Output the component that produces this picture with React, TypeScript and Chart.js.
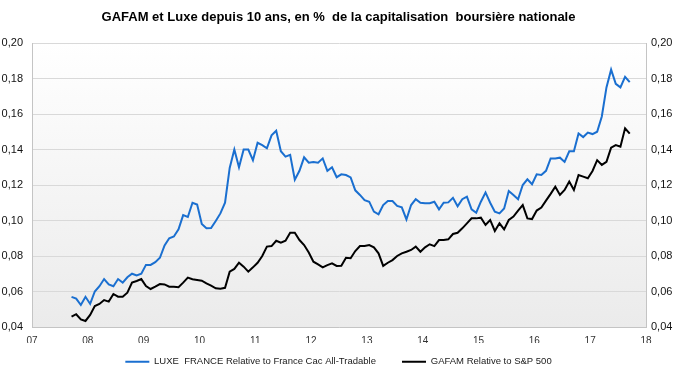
import React, { useEffect, useRef } from "react";
import { Chart, registerables } from "chart.js";

Chart.register(...registerables);

// First observation: September 2007 (month index 8), monthly to September 2017
const startYear = 2007;
const startMonth = 8;

const seriesLabels = [
  "LUXE_FRANCE Relative to France Cac All-Tradable",
  "GAFAM Relative to S&P 500",
];

const luxeFrance = [
  0.057, 0.056, 0.0524, 0.057, 0.053, 0.06, 0.063, 0.067, 0.064, 0.063,
  0.067, 0.065, 0.068, 0.07, 0.069, 0.07, 0.075, 0.075, 0.0765, 0.079,
  0.086, 0.09, 0.091, 0.095, 0.103, 0.102, 0.11, 0.109, 0.098, 0.0956,
  0.0957, 0.0997, 0.104, 0.11, 0.1296, 0.14, 0.13, 0.14, 0.14, 0.134,
  0.1438, 0.1425, 0.1407, 0.148, 0.1506, 0.139, 0.136, 0.137, 0.123, 0.128,
  0.1356, 0.1326, 0.133, 0.1326, 0.135, 0.128, 0.13, 0.1244, 0.126, 0.1256,
  0.1243, 0.117, 0.1144, 0.1115, 0.1106, 0.105, 0.1035, 0.1087, 0.111, 0.111,
  0.1082, 0.1074, 0.1006, 0.1087, 0.112, 0.11, 0.1097, 0.1097, 0.1106, 0.1063,
  0.11, 0.1102, 0.1128, 0.108, 0.112, 0.1134, 0.1063, 0.1044, 0.1106, 0.1158,
  0.11, 0.105, 0.104, 0.1068, 0.1166, 0.1144, 0.112, 0.12, 0.1232, 0.1204,
  0.126, 0.1256, 0.128, 0.135, 0.135, 0.1354, 0.133, 0.139, 0.139, 0.149,
  0.147, 0.1495, 0.1487, 0.15, 0.1586, 0.175, 0.185, 0.177, 0.175, 0.181,
  0.178,
];

const gafam = [
  0.0458, 0.0472, 0.0443, 0.0434, 0.0468, 0.0518, 0.053, 0.0552, 0.0543, 0.0586,
  0.0571, 0.0571, 0.0593, 0.065, 0.0659, 0.067, 0.0631, 0.0614, 0.0627, 0.0642,
  0.064, 0.0627, 0.0627, 0.0624, 0.065, 0.0678, 0.0669, 0.0665, 0.0661, 0.0646,
  0.0633, 0.0618, 0.0616, 0.0621, 0.0712, 0.0727, 0.0762, 0.074, 0.0712, 0.0736,
  0.0762, 0.08, 0.0853, 0.0856, 0.0886, 0.0875, 0.0886, 0.0931, 0.0931, 0.089,
  0.0862, 0.082, 0.0768, 0.0753, 0.0736, 0.0749, 0.0759, 0.0744, 0.0745, 0.079,
  0.0787, 0.0828, 0.0856, 0.0856, 0.0862, 0.0849, 0.0815, 0.0744, 0.0762, 0.0777,
  0.08, 0.0815, 0.0824, 0.0834, 0.0853, 0.0824, 0.0849, 0.0866, 0.0856, 0.089,
  0.089, 0.0894, 0.0924, 0.0931, 0.0956, 0.0984, 0.1012, 0.1012, 0.1016, 0.0975,
  0.1003, 0.0941, 0.0984, 0.095, 0.1003, 0.1022, 0.1056, 0.1087, 0.1012, 0.1008,
  0.1056, 0.1073, 0.1112, 0.115, 0.119, 0.1144, 0.1172, 0.1219, 0.1172, 0.1256,
  0.1247, 0.1238, 0.1279, 0.134, 0.1313, 0.1331, 0.141, 0.1425, 0.1416, 0.1519,
  0.1489,
];

// Axis ranges / tick settings
const xMin = 7;
const xMax = 18;
const yMin = 0.04;
const yMax = 0.2;
const yStep = 0.02;

const monthX = (i: number) => startYear - 2000 + (startMonth + i + 0.5) / 12;

const FONT = "'Liberation Sans', Arial, sans-serif";
const NARROW = "'Liberation Sans Narrow', 'Arial Narrow', 'Liberation Sans', sans-serif";

const LEGEND_PAD = 26;
const LEGEND_HEIGHT = 34;
const LEGEND_SHIFT = 12;

const plotBg = {
  id: "plotBg",
  beforeDraw(chart: any) {
    const { ctx, chartArea: a } = chart;
    if (!a) return;
    const g = ctx.createLinearGradient(0, a.top, 0, a.bottom);
    g.addColorStop(0, "#ffffff");
    g.addColorStop(1, "#ebebeb");
    ctx.save();
    ctx.fillStyle = g;
    ctx.fillRect(a.left, a.top, a.right - a.left, a.bottom - a.top);
    ctx.restore();
  },
};

// keep wide horizontal spacing between legend items but a compact legend box
const legendTune = {
  id: "legendTune",
  beforeLayout(chart: any) {
    const lg: any = chart.legend;
    if (lg && !lg._tuned) {
      const orig = lg.fit;
      lg.fit = function () {
        orig.call(this);
        this.height = LEGEND_HEIGHT;
      };
      lg._tuned = true;
    }
  },
  afterLayout(chart: any) {
    const lg: any = chart.legend;
    if (lg) {
      lg.top = Math.round(lg.top - LEGEND_SHIFT);
      lg.bottom = lg.top + LEGEND_HEIGHT;
    }
  },
};

export default function App() {
  const ref = useRef<HTMLCanvasElement | null>(null);

  useEffect(() => {
    document.body.style.margin = "0";
    const canvas = ref.current;
    if (!canvas) return;
    const fmt = (v: any) => Number(v).toFixed(2).replace(".", ",");
    const chart = new Chart(canvas, {
      type: "line",
      data: {
        datasets: [
          {
            label: seriesLabels[0],
            data: luxeFrance.map((v, i) => ({ x: monthX(i), y: v })),
            borderColor: "#1a6fd0",
            backgroundColor: "#1a6fd0",
            borderWidth: 2,
            pointRadius: 0,
            tension: 0,
          },
          {
            label: seriesLabels[1],
            data: gafam.map((v, i) => ({ x: monthX(i), y: v })),
            borderColor: "#000000",
            backgroundColor: "#000000",
            borderWidth: 2,
            pointRadius: 0,
            tension: 0,
          },
        ],
      },
      options: {
        responsive: false,
        animation: false,
        devicePixelRatio: 1,
        layout: { padding: 0 },
        plugins: {
          title: {
            display: true,
            text: "GAFAM et Luxe depuis 10 ans, en %  de la capitalisation  boursière nationale",
            color: "#000",
            font: { family: FONT, size: 13, weight: "bold" },
            padding: { top: 10, bottom: 17.4 },
          },
          legend: {
            position: "bottom",
            labels: {
              usePointStyle: true,
              pointStyle: "line",
              pointStyleWidth: 24,
              color: "#1a1a1a",
              font: { family: FONT, size: 9.5 },
              padding: LEGEND_PAD,
            },
          },
          tooltip: { enabled: false },
        },
        scales: {
          x: {
            type: "linear",
            min: xMin,
            max: xMax,
            ticks: {
              stepSize: 1,
              color: "#333",
              font: { family: NARROW, size: 10 },
              padding: 0,
              callback: (v: any) => String(Math.round(Number(v))).padStart(2, "0"),
            },
            grid: { display: false },
            border: { display: true, color: "#c4c4c4", width: 1 },
            afterFit: (s: any) => {
              s.height = 16;
            },
          },
          y: {
            position: "left",
            min: yMin,
            max: yMax,
            ticks: {
              stepSize: yStep,
              color: "#111",
              font: { family: FONT, size: 11 },
              padding: 9,
              callback: fmt,
            },
            grid: { color: "#d9d9d9", drawTicks: false },
            border: { display: true, color: "#c4c4c4", width: 1 },
            afterFit: (s: any) => {
              s.width = 32;
            },
          },
          y2: {
            position: "right",
            min: yMin,
            max: yMax,
            ticks: {
              stepSize: yStep,
              color: "#111",
              font: { family: FONT, size: 11 },
              padding: 5,
              callback: fmt,
            },
            grid: { display: false, drawTicks: false },
            border: { display: true, color: "#c4c4c4", width: 1 },
            afterFit: (s: any) => {
              s.width = 31;
            },
          },
        },
      },
      plugins: [plotBg, legendTune],
    });
    return () => chart.destroy();
  }, []);

  return (
    <div style={{ width: 677, height: 377 }}>
      <canvas ref={ref} width={677} height={377} />
    </div>
  );
}
